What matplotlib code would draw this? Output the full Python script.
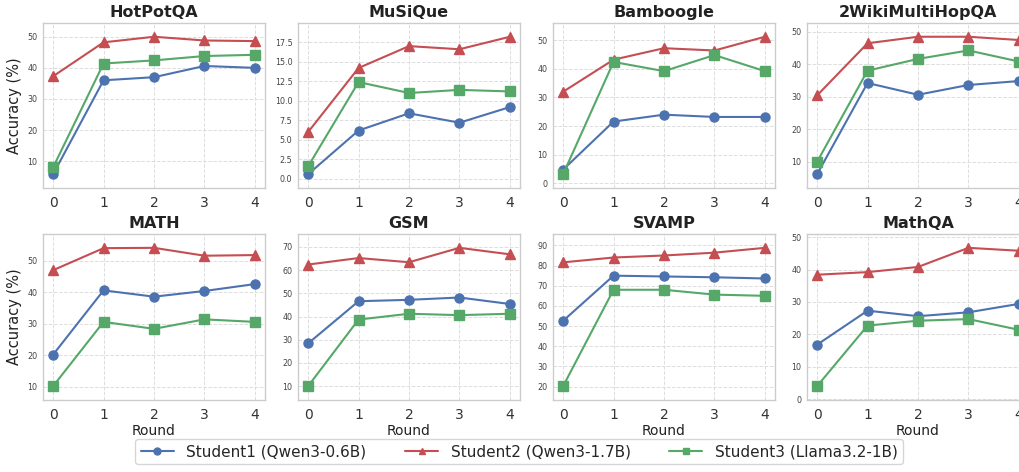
import matplotlib
matplotlib.use("Agg")
import matplotlib.pyplot as plt
import seaborn as sns
from matplotlib.lines import Line2D

sns.set_theme(style="whitegrid")
plt.rcParams['font.family'] = ['DejaVu Sans']

rounds = [0, 1, 2, 3, 4]
datasets = ["HotPotQA", "MuSiQue", "Bamboogle", "2WikiMultiHopQA",
            "MATH", "GSM", "SVAMP", "MathQA"]
labels = ["Student1 (Qwen3-0.6B)", "Student2 (Qwen3-1.7B)", "Student3 (Llama3.2-1B)"]

student1 = {
    "HotPotQA": [5.8, 36.0, 37.0, 40.6, 40.0],
    "MuSiQue": [0.6, 6.2, 8.4, 7.2, 9.2],
    "Bamboogle": [4.8, 21.6, 24.0, 23.2, 23.2],
    "2WikiMultiHopQA": [6.2, 34.2, 30.6, 33.6, 34.8],
    "MATH": [20.2, 40.6, 38.6, 40.4, 42.6],
    "GSM": [28.4, 46.6, 47.2, 48.2, 45.4],
    "SVAMP": [52.6, 75.0, 74.6, 74.2, 73.6],
    "MathQA": [16.8, 27.3, 25.6, 26.8, 29.4],
}
student2 = {
    "HotPotQA": [37.3, 48.2, 50.0, 48.8, 48.6],
    "MuSiQue": [6.0, 14.2, 17.0, 16.6, 18.2],
    "Bamboogle": [32.0, 43.2, 47.2, 46.4, 51.2],
    "2WikiMultiHopQA": [30.4, 46.4, 48.4, 48.4, 47.4],
    "MATH": [47.0, 54.0, 54.1, 51.6, 51.8],
    "GSM": [62.4, 65.2, 63.4, 69.6, 66.8],
    "SVAMP": [81.6, 84.0, 85.0, 86.4, 88.8],
    "MathQA": [38.4, 39.2, 40.8, 46.7, 45.8],
}
student3 = {
    "HotPotQA": [8.0, 41.4, 42.4, 43.8, 44.2],
    "MuSiQue": [1.6, 12.4, 11.0, 11.4, 11.2],
    "Bamboogle": [3.2, 42.4, 39.2, 44.8, 39.2],
    "2WikiMultiHopQA": [10.0, 38.0, 41.6, 44.2, 40.8],
    "MATH": [10.2, 30.6, 28.4, 31.4, 30.6],
    "GSM": [10.0, 38.7, 41.2, 40.6, 41.2],
    "SVAMP": [20.2, 68.0, 68.0, 65.6, 65.0],
    "MathQA": [4.0, 22.7, 24.2, 24.7, 21.4],
}

colors = ["#4C72B0", "#C44E52", "#55A868"]
markers = ["o", "^", "s"]
series = [student1, student2, student3]

W, H = 1019, 472
fig = plt.figure(figsize=(W / 100, H / 100), dpi=100)

lefts = [43, 298, 553, 807]
rows = [(23, 188), (234, 400)]
axw = 222

for i, name in enumerate(datasets):
    r, c = divmod(i, 4)
    top, bot = rows[r]
    ax = fig.add_axes([lefts[c] / W, 1 - bot / H, axw / W, (bot - top) / H])
    for s, col, mk in zip(series, colors, markers):
        ax.plot(rounds, s[name], color=col, marker=mk, markersize=6.5,
                linewidth=1.5)
    ax.margins(x=0.05, y=0.1)
    ax.set_xticks(rounds)
    ax.set_title(name, fontsize=11.5, fontweight="bold", pad=4, color="#222222")
    ax.tick_params(axis="x", labelsize=10, length=0, pad=6, colors="#333333")
    ax.tick_params(axis="y", labelsize=5.8, length=0, pad=4, colors="#444444")
    ax.grid(True, linestyle="--", linewidth=0.7, color="#dddddd")
    for sp in ax.spines.values():
        sp.set_color("#cccccc")
        sp.set_linewidth(1.0)
    if c == 0:
        ax.set_ylabel("Accuracy (%)", fontsize=10.5, color="#222222")
        ax.yaxis.set_label_coords(-0.095, 0.5)
    if r == 1:
        ax.set_xlabel("Round", fontsize=10, color="#222222", labelpad=1)

handles = [Line2D([0], [0], color=col, marker=mk, markersize=5, linewidth=1.5)
           for col, mk in zip(colors, markers)]
fig.legend(handles, labels, loc="lower center", bbox_to_anchor=(519 / W, 0.0),
           ncol=3, fontsize=11, frameon=True, columnspacing=2.5,
           handlelength=2.2, borderpad=0.35, edgecolor="#cccccc")

fig.savefig("out.png", dpi=100)
